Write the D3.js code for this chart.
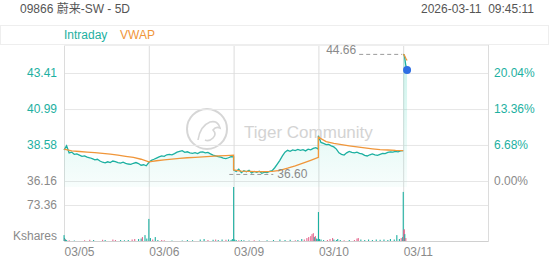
<!DOCTYPE html>
<html>
<head>
<meta charset="utf-8">
<script src="https://cdn.jsdelivr.net/npm/d3@7"></script>
<style>
  body { margin: 0; background: #fff; }
  svg { display: block; font-family: "Liberation Sans", Arial, "Noto Sans CJK SC", sans-serif; }
</style>
</head>
<body>
<div id="chart"></div>
<script>
const width = 552;
const height = 265;

// chart data
const title = '09866 蔚来-SW - 5D';
const stamp = '2026-03-11  09:45:11';
const dayLabels = ['03/05', '03/06', '03/09', '03/10', '03/11'];
const priceTicks = [36.16, 38.58, 40.99, 43.41];
const pctTicks = ['0.00%', '6.68%', '13.36%', '20.04%'];
const volTicks = [73.36];
const prevClose = 36.16;
const volMax = 110.04;

// intraday price, one value every 10 minutes (34 per day)
const intraday05 = [38.24, 38.52, 38.05, 38.10, 37.95, 37.98, 37.90, 37.82, 37.85, 37.76, 37.72, 37.66,
  37.58, 37.62, 37.50, 37.42, 37.38, 37.45, 37.40, 37.50, 37.46, 37.40, 37.36, 37.42, 37.35, 37.30,
  37.28, 37.35, 37.40, 37.33, 37.22, 37.25, 37.18, 37.40];
const intraday06 = [37.40, 37.55, 37.62, 37.70, 37.78, 37.85, 37.82, 37.92, 37.95, 37.92, 38.00, 38.10,
  38.15, 38.20, 38.08, 38.12, 38.05, 38.02, 38.06, 38.00, 38.10, 38.12, 38.05, 38.08, 37.98, 37.90,
  37.85, 37.80, 37.76, 37.70, 37.66, 37.72, 37.80, 37.78];
const intraday09 = [36.90, 36.80, 36.95, 36.72, 36.85, 36.78, 36.88, 36.70, 36.80, 36.74, 36.82, 36.68,
  36.76, 36.72, 36.80, 36.86, 37.05, 37.30, 37.55, 37.85, 38.10, 38.22, 38.15, 38.25, 38.20, 38.28,
  38.22, 38.26, 38.18, 38.30, 38.25, 38.35, 38.40, 38.30];
const intraday10 = [39.20, 38.75, 38.68, 38.60, 38.62, 38.52, 38.45, 38.30, 38.05, 37.95, 37.90, 38.05,
  38.15, 38.08, 38.05, 38.10, 38.02, 37.98, 37.88, 37.84, 37.92, 37.98, 37.92, 37.88, 37.95, 38.02,
  38.00, 38.08, 38.12, 38.10, 38.15, 38.12, 38.18, 38.20];
// 03/11 so far: [minute, price]
const intraday11 = [[0, 44.66], [4, 44.62], [7, 44.30], [10, 43.93], [13, 43.70], [15, 43.61]];

// VWAP, one value every 30 minutes (12 per day)
const vwap05 = [38.30, 38.18, 38.14, 38.10, 38.06, 38.02, 37.96, 37.90, 37.82, 37.74, 37.62, 37.45];
const vwap06 = [37.45, 37.52, 37.58, 37.63, 37.68, 37.72, 37.75, 37.78, 37.81, 37.84, 37.87, 37.90];
const vwap09 = [36.90, 36.82, 36.80, 36.79, 36.79, 36.80, 36.88, 37.02, 37.18, 37.36, 37.55, 37.75];
const vwap10 = [39.10, 38.80, 38.68, 38.60, 38.52, 38.45, 38.38, 38.32, 38.27, 38.24, 38.21, 38.20];
const vwap11 = [[0, 44.66], [4, 44.62], [10, 44.40], [15, 44.25]];

// volume bars: [minute from 03/05 open, kshares, 1 = up / 0 = down]
const volBars = [
  [0, 12, 1], [2, 6, 1], [4, 4, 0], [6, 3, 1], [10, 2, 1], [20, 1.5, 0], [40, 1, 1], [80, 1.5, 0],
  [100, 2.5, 0], [115, 2, 1], [150, 2.5, 0], [160, 2, 1], [190, 3, 0], [200, 2, 0], [220, 2, 1],
  [235, 1.5, 1], [250, 2, 1], [265, 3, 0], [275, 4, 0], [290, 4, 1], [300, 5, 1], [305, 8, 0],
  [315, 12, 1], [322, 5, 1], [330, 45, 1],
  [336, 6, 1], [345, 3, 0], [355, 8, 1], [365, 2, 1], [380, 2, 0], [390, 1.5, 0], [420, 1, 1],
  [460, 1, 1], [480, 2, 1], [500, 1.5, 1], [530, 3, 1], [545, 4, 1], [560, 2, 0], [580, 2.5, 1],
  [590, 3, 0], [600, 2, 1], [615, 3, 1], [630, 2.5, 0], [640, 3, 1], [650, 2, 1], [655, 4, 1],
  [660, 110.04, 1],
  [664, 3, 1], [670, 2, 1], [680, 1.5, 0], [690, 2, 1], [700, 1.5, 1], [720, 1, 1], [740, 1.5, 0],
  [760, 1, 1], [790, 1.5, 1], [815, 2, 1], [840, 3, 1], [860, 2, 1], [880, 2.5, 1], [900, 1.5, 0],
  [910, 2, 1], [925, 4, 1], [935, 3, 0], [945, 6, 0], [952, 8, 0], [960, 10, 0], [965, 14, 0],
  [970, 16, 0], [974, 8, 1], [978, 10, 0], [983, 5, 1], [988, 4, 1], [990, 59, 1],
  [994, 4, 1], [1000, 3, 1], [1010, 2, 1], [1025, 2, 0], [1035, 4, 0], [1045, 6, 0], [1050, 3, 1],
  [1060, 2, 1], [1065, 4, 1], [1075, 2, 1], [1090, 1.5, 0], [1110, 2, 1], [1130, 2, 0], [1140, 5, 0],
  [1145, 6, 0], [1155, 3, 1], [1170, 2, 1], [1185, 3, 1], [1200, 2, 1], [1215, 3, 1], [1230, 2.5, 1],
  [1245, 3, 1], [1260, 2, 1], [1270, 4, 1], [1285, 3, 1], [1295, 12, 1], [1305, 4, 1], [1312, 6, 0],
  [1318, 8, 1],
  [1320, 100, 1], [1322, 22, 0], [1324, 24, 0], [1326, 14, 1], [1330, 6, 0]
];

const teal = '#1db0a1';
const orange = '#f0963a';
const pink = '#e5688f';
const grid = '#e6e6e6';
const gray = '#8a8a8a';

const dayMin = 330;
const plot = { left: 64, right: 488, top: 45, priceBottom: 187, volTop: 187, volBottom: 241 };

// helpers to turn the per-day arrays into [minute, value] points
const everyN = (arr, day, step) => arr.map((v, i) => [day * dayMin + i * step, v]);
const offset = (arr, day) => arr.map(d => [day * dayMin + d[0], d[1]]);

const priceMain = [intraday05, intraday06, intraday09, intraday10]
  .flatMap((a, i) => everyN(a, i, 10));
const priceLast = offset(intraday11, 4);
const vwapMain = [vwap05, vwap06, vwap09, vwap10].flatMap((a, i) => everyN(a, i, 30));
const vwapLast = offset(vwap11, 4);

const svg = d3.select('#chart').append('svg')
  .attr('width', width)
  .attr('height', height);

const x = d3.scaleLinear().domain([0, 5 * dayMin]).range([plot.left, plot.right]);
// 36.16 sits at 181px and 43.41 at 73px in the picture
const yP = d3.scaleLinear().domain([35.757, 45.29]).range([plot.priceBottom, plot.top]);
const yV = d3.scaleLinear().domain([0, volMax]).range([plot.volBottom, plot.volTop]);

// header
svg.append('text').attr('x', 20).attr('y', 13)
  .attr('font-size', 12).attr('fill', '#555').text(title);
svg.append('text').attr('x', 534).attr('y', 13).attr('text-anchor', 'end')
  .attr('font-size', 12).attr('fill', '#555').style('white-space', 'pre').text(stamp);

// legend strip
svg.append('rect').attr('x', 0.5).attr('y', 25.5).attr('width', 548).attr('height', 19)
  .attr('fill', 'none').attr('stroke', '#eeeeee');
svg.append('text').attr('x', 64).attr('y', 39).attr('font-size', 12).attr('fill', teal).text('Intraday');
svg.append('text').attr('x', 120).attr('y', 39).attr('font-size', 12).attr('fill', orange).text('VWAP');

// watermark
const wm = svg.append('g').attr('opacity', 0.9);
wm.append('circle').attr('cx', 207).attr('cy', 129).attr('r', 20)
  .attr('fill', 'none').attr('stroke', '#d2d2d2').attr('stroke-width', 2);
wm.append('path').attr('d', 'M198,140 q2,-14 12,-18 q8,-2 10,6 q-4,-2 -7,2 q4,4 0,8 q-4,4 -8,2')
  .attr('fill', 'none').attr('stroke', '#d2d2d2').attr('stroke-width', 1.6);
wm.append('text').attr('x', 244).attr('y', 138).attr('font-size', 17)
  .attr('fill', '#cfcfcf').text('Tiger Community');

// price axis + horizontal grid
const yAxisGroup = svg.append('g').attr('transform', `translate(${plot.left},0)`)
  .call(d3.axisLeft(yP).tickValues(priceTicks).tickFormat(d3.format('.2f'))
    .tickSize(-(plot.right - plot.left)).tickPadding(7));
yAxisGroup.select('.domain').remove();
yAxisGroup.selectAll('.tick line').attr('stroke', grid);
yAxisGroup.selectAll('.tick text').attr('font-size', 12)
  .attr('fill', d => d === prevClose ? gray : teal);

const pctAxisGroup = svg.append('g').attr('transform', `translate(${plot.right},0)`)
  .call(d3.axisRight(yP).tickValues(priceTicks).tickFormat((d, i) => pctTicks[i])
    .tickSize(0).tickPadding(6));
pctAxisGroup.select('.domain').remove();
pctAxisGroup.selectAll('.tick text').attr('font-size', 12)
  .attr('fill', d => d === prevClose ? gray : teal);

// volume axis
const vAxisGroup = svg.append('g').attr('transform', `translate(${plot.left},0)`)
  .call(d3.axisLeft(yV).tickValues(volTicks).tickFormat(d3.format('.2f'))
    .tickSize(-(plot.right - plot.left)).tickPadding(7));
vAxisGroup.select('.domain').remove();
vAxisGroup.selectAll('.tick line').attr('stroke', grid);
vAxisGroup.selectAll('.tick text').attr('font-size', 12).attr('fill', gray);
svg.append('text').attr('x', 57).attr('y', 240).attr('text-anchor', 'end')
  .attr('font-size', 12).attr('fill', gray).text('Kshares');

// day axis + vertical grid
const xAxisGroup = svg.append('g').attr('transform', `translate(0,${plot.volBottom})`)
  .call(d3.axisBottom(x).tickValues(d3.range(6).map(i => i * dayMin))
    .tickFormat((d, i) => dayLabels[i] || '')
    .tickSize(-(plot.volBottom - plot.top)).tickPadding(6));
xAxisGroup.select('.domain').attr('stroke', '#d0d0d0');
xAxisGroup.selectAll('.tick line').attr('stroke', '#dcdcdc');
xAxisGroup.selectAll('.tick text').attr('font-size', 12).attr('fill', gray)
  .attr('text-anchor', 'start').attr('dx', 0);
svg.append('line').attr('x1', plot.left).attr('x2', plot.right)
  .attr('y1', plot.top + 0.5).attr('y2', plot.top + 0.5).attr('stroke', '#eeeeee');

// area gradient under intraday line
const grad = svg.append('defs').append('linearGradient').attr('id', 'fade')
  .attr('gradientUnits', 'userSpaceOnUse')
  .attr('x1', 0).attr('x2', 0).attr('y1', plot.top).attr('y2', plot.priceBottom);
grad.append('stop').attr('offset', 0).attr('stop-color', '#3fd4b8').attr('stop-opacity', 0.28);
grad.append('stop').attr('offset', 1).attr('stop-color', '#3fd4b8').attr('stop-opacity', 0.04);

const area = d3.area()
  .x(d => x(d[0]))
  .y0(plot.priceBottom)
  .y1(d => yP(d[1]));
const line = d3.line()
  .x(d => x(d[0]))
  .y(d => yP(d[1]));

[priceMain, priceLast].forEach(seg => {
  svg.append('path').datum(seg).attr('d', area).attr('fill', 'url(#fade)');
});

// volume bars
svg.append('g').selectAll('rect')
  .data(volBars)
  .join('rect')
  .attr('x', d => x(d[0]) - 0.5)
  .attr('y', d => yV(d[1]))
  .attr('width', 1.1)
  .attr('height', d => yV(0) - yV(d[1]))
  .attr('fill', d => d[2] ? teal : pink);

// lines
[priceMain, priceLast].forEach(seg => {
  svg.append('path').datum(seg).attr('d', line)
    .attr('fill', 'none').attr('stroke', teal).attr('stroke-width', 1.3);
});
[vwapMain, vwapLast].forEach(seg => {
  svg.append('path').datum(seg).attr('d', line)
    .attr('fill', 'none').attr('stroke', orange).attr('stroke-width', 1.3);
});

// high / low markers
const hi = d3.max(priceLast, d => d[1]);
const lo = d3.min(priceMain, d => d[1]);
const hiX = x(priceLast[0][0]);
svg.append('line').attr('x1', hiX - 44).attr('x2', hiX - 1)
  .attr('y1', yP(hi)).attr('y2', yP(hi))
  .attr('stroke', '#9a9a9a').attr('stroke-dasharray', '4,3');
svg.append('text').attr('x', hiX - 47).attr('y', yP(hi) - 0.5).attr('text-anchor', 'end')
  .attr('font-size', 12).attr('fill', gray).text(hi.toFixed(2));

const loX = x(2 * dayMin + 30);
svg.append('line').attr('x1', loX - 12).attr('x2', loX + 32)
  .attr('y1', yP(36.60)).attr('y2', yP(36.60))
  .attr('stroke', '#9a9a9a').attr('stroke-dasharray', '4,3');
svg.append('text').attr('x', loX + 36).attr('y', yP(36.60) + 4)
  .attr('font-size', 12).attr('fill', gray).text((36.60).toFixed(2));

// current price dot
const last = priceLast[priceLast.length - 1];
svg.append('circle').attr('cx', x(last[0])).attr('cy', yP(last[1])).attr('r', 4)
  .attr('fill', '#2f6fe4');
</script>
</body>
</html>
